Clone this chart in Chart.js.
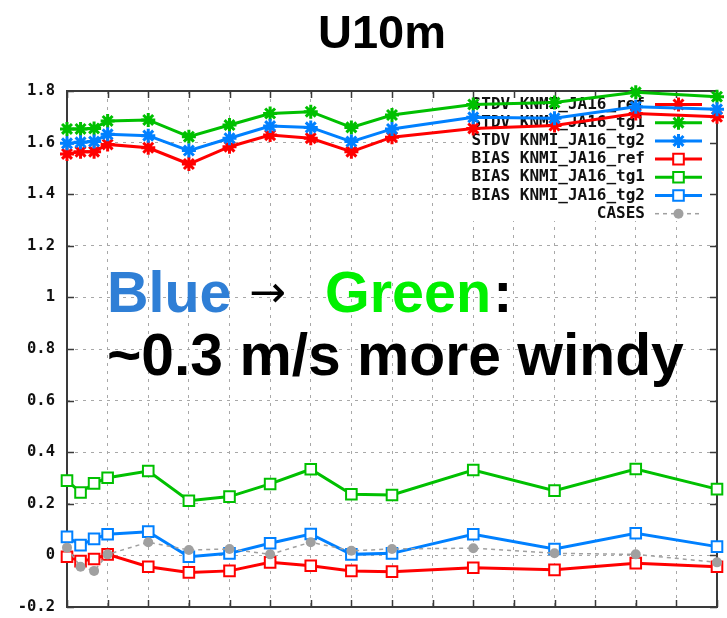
<!DOCTYPE html>
<html>
<head>
<meta charset="utf-8">
<script src="https://cdn.jsdelivr.net/npm/chart.js@4.4.0/dist/chart.umd.min.js"></script>
<style>
  html, body { margin: 0; padding: 0; background: #ffffff; }
  canvas { display: block; }
</style>
</head>
<body>
<canvas id="chart" width="727" height="618"></canvas>
<script>
// Forecast lead time (hours)
const leadHours = [0, 1, 2, 3, 6, 9, 12, 15, 18, 21, 24, 30, 36, 42, 48];

// Standard deviation of 10 m wind speed error (m/s)
const stdvRef = [1.556, 1.565, 1.565, 1.593, 1.580, 1.517, 1.584, 1.629, 1.617, 1.565, 1.621, 1.655, 1.666, 1.713, 1.700];
const stdvTg1 = [1.653, 1.653, 1.655, 1.684, 1.688, 1.623, 1.668, 1.713, 1.720, 1.659, 1.707, 1.748, 1.755, 1.795, 1.778];
const stdvTg2 = [1.597, 1.601, 1.604, 1.632, 1.627, 1.569, 1.617, 1.664, 1.659, 1.604, 1.653, 1.698, 1.694, 1.739, 1.729];

// Bias of 10 m wind speed (m/s)
const biasRef = [-0.005, -0.022, -0.014, 0.004, -0.044, -0.066, -0.060, -0.027, -0.040, -0.060, -0.063, -0.048, -0.056, -0.030, -0.044];
const biasTg1 = [0.290, 0.244, 0.279, 0.301, 0.327, 0.212, 0.228, 0.277, 0.334, 0.237, 0.234, 0.331, 0.251, 0.335, 0.257];
const biasTg2 = [0.072, 0.040, 0.064, 0.082, 0.092, -0.005, 0.008, 0.047, 0.083, 0.004, 0.008, 0.082, 0.025, 0.086, 0.034];

// Number of cases (scaled onto the same axis)
const cases = [0.030, -0.044, -0.060, 0.004, 0.051, 0.021, 0.025, 0.004, 0.051, 0.018, 0.025, 0.028, 0.008, 0.004, -0.027];

const seriesLabels = [
  'STDV KNMI_JA16_ref', 'STDV KNMI_JA16_tg1', 'STDV KNMI_JA16_tg2',
  'BIAS KNMI_JA16_ref', 'BIAS KNMI_JA16_tg1', 'BIAS KNMI_JA16_tg2', 'CASES'
];

const yMin = -0.2, yMax = 1.8, yStep = 0.2;
const xMin = 0, xMax = 48, xStep = 3;

const RED = '#ff0000', GREEN = '#00c000', BLUE = '#0080ff', GREY = '#a0a0a0';
const MONO = '"DejaVu Sans Mono", monospace';
const SANS = '"Liberation Sans", Arial, sans-serif';

const toPoints = vals => vals.map((v, i) => ({ x: leadHours[i], y: v }));

function stdvSet(label, vals, color, order) {
  return {
    label, data: toPoints(vals), order,
    borderColor: color, backgroundColor: color, borderWidth: 3,
    pointStyle: 'star', pointRadius: 7, pointBorderWidth: 3,
    pointBorderColor: color, pointBackgroundColor: color,
    tension: 0, clip: false
  };
}
function biasSet(label, vals, color, order) {
  return {
    label, data: toPoints(vals), order,
    borderColor: color, backgroundColor: '#ffffff', borderWidth: 3,
    pointStyle: 'rect', pointRadius: 7.5, pointBorderWidth: 2,
    pointBorderColor: color, pointBackgroundColor: '#ffffff',
    tension: 0, clip: false
  };
}

const datasets = [
  stdvSet(seriesLabels[0], stdvRef, RED, 7),
  stdvSet(seriesLabels[1], stdvTg1, GREEN, 6),
  stdvSet(seriesLabels[2], stdvTg2, BLUE, 5),
  biasSet(seriesLabels[3], biasRef, RED, 4),
  biasSet(seriesLabels[4], biasTg1, GREEN, 3),
  biasSet(seriesLabels[5], biasTg2, BLUE, 2),
  {
    label: seriesLabels[6], data: toPoints(cases), order: 1,
    borderColor: GREY, backgroundColor: GREY, borderWidth: 1.5, borderDash: [4, 4],
    pointStyle: 'circle', pointRadius: 5, pointBorderWidth: 0,
    pointBackgroundColor: GREY, tension: 0, clip: false
  }
];

// Key box, plot frame and inward tick marks (drawn under the data)
const framePlugin = {
  id: 'frameAndKey',
  beforeDatasetsDraw(chart) {
    const { ctx, chartArea: a, scales } = chart;
    ctx.save();

    // key
    const keyLeft = 468, keyBottom = 220;
    ctx.fillStyle = '#ffffff';
    ctx.fillRect(keyLeft, a.top + 1, a.right - keyLeft - 1, keyBottom - a.top);
    const textRight = 645, sampleL = 655, sampleR = 702, rowTop = 104.5, rowGap = 18.2;
    const keyStyles = [
      { c: RED, p: 'star' }, { c: GREEN, p: 'star' }, { c: BLUE, p: 'star' },
      { c: RED, p: 'rect' }, { c: GREEN, p: 'rect' }, { c: BLUE, p: 'rect' },
      { c: GREY, p: 'circle' }
    ];
    ctx.font = 'bold 16px ' + MONO;
    ctx.textAlign = 'right';
    ctx.textBaseline = 'middle';
    seriesLabels.forEach((lab, i) => {
      const y = rowTop + i * rowGap;
      const st = keyStyles[i];
      ctx.fillStyle = '#111111';
      ctx.fillText(lab, textRight, y);
      ctx.save();
      ctx.strokeStyle = st.c;
      if (st.p === 'circle') { ctx.lineWidth = 1.5; ctx.setLineDash([4, 4]); }
      else { ctx.lineWidth = 3; }
      ctx.beginPath();
      ctx.moveTo(sampleL, y);
      ctx.lineTo(sampleR, y);
      ctx.stroke();
      ctx.setLineDash([]);
      const mx = (sampleL + sampleR) / 2;
      if (st.p === 'star') {
        ctx.lineWidth = 3; ctx.fillStyle = st.c;
        Chart.helpers.drawPoint(ctx, { pointStyle: 'star', radius: 7, rotation: 0, borderWidth: 3 }, mx, y);
      } else if (st.p === 'rect') {
        ctx.lineWidth = 2; ctx.fillStyle = '#ffffff';
        Chart.helpers.drawPoint(ctx, { pointStyle: 'rect', radius: 7.5, rotation: 0, borderWidth: 2 }, mx, y);
      } else {
        ctx.fillStyle = st.c;
        Chart.helpers.drawPoint(ctx, { pointStyle: 'circle', radius: 5, rotation: 0, borderWidth: 0 }, mx, y);
      }
      ctx.restore();
    });

    // frame
    ctx.strokeStyle = '#3a3a3a';
    ctx.lineWidth = 2;
    ctx.strokeRect(a.left, a.top, a.right - a.left, a.bottom - a.top);

    // inward ticks on all four sides
    const tl = 7;
    ctx.lineWidth = 1.5;
    ctx.beginPath();
    scales.x.ticks.forEach(t => {
      const px = Math.round(scales.x.getPixelForValue(t.value)) + 0.5;
      ctx.moveTo(px, a.bottom); ctx.lineTo(px, a.bottom - tl);
      ctx.moveTo(px, a.top); ctx.lineTo(px, a.top + tl);
    });
    scales.y.ticks.forEach(t => {
      const py = Math.round(scales.y.getPixelForValue(t.value)) + 0.5;
      ctx.moveTo(a.left, py); ctx.lineTo(a.left + tl, py);
      ctx.moveTo(a.right, py); ctx.lineTo(a.right - tl, py);
    });
    ctx.stroke();
    ctx.restore();
  },
  afterDraw(chart) {
    const { ctx } = chart;
    ctx.save();
    ctx.textBaseline = 'alphabetic';
    ctx.textAlign = 'center';
    ctx.fillStyle = '#000000';
    ctx.font = 'bold 47px ' + SANS;
    ctx.fillText('U10m', 382, 48);

    ctx.textAlign = 'left';
    ctx.font = 'bold 57.5px ' + SANS;
    ctx.fillStyle = '#2f7fd6';
    ctx.fillText('Blue', 107, 312);
    ctx.fillStyle = '#000000';
    ctx.font = '44px "DejaVu Sans", sans-serif';
    ctx.fillText('\u2192', 249, 307);
    ctx.font = 'bold 57.5px ' + SANS;
    ctx.fillStyle = '#00f000';
    ctx.fillText('Green', 325, 312);
    const gw = ctx.measureText('Green').width;
    ctx.fillStyle = '#000000';
    ctx.fillText(':', 325 + gw + 2, 312);
    ctx.font = 'bold 58.8px ' + SANS;
    ctx.fillText('~0.3 m/s more windy', 107, 375);
    ctx.restore();
  }
};

new Chart(document.getElementById('chart'), {
  type: 'line',
  data: { datasets },
  options: {
    responsive: false,
    animation: false,
    layout: { padding: { top: 91, right: 7, bottom: 0, left: 0 } },
    plugins: { legend: { display: false }, title: { display: false }, tooltip: { enabled: false } },
    scales: {
      x: {
        type: 'linear', min: xMin, max: xMax,
        ticks: { stepSize: xStep, display: false },
        grid: { color: '#a8a8a8', lineWidth: 1, drawTicks: false },
        border: { display: false, dash: [3, 5] },
        afterFit(scale) {
          scale.height = 11;
          scale.paddingLeft = 0; scale.paddingRight = 0;
        }
      },
      y: {
        type: 'linear', min: yMin, max: yMax,
        ticks: {
          stepSize: yStep, padding: 12, color: '#111111',
          font: { family: MONO, size: 15.5, weight: 'bold' },
          callback: v => String(Number(v.toFixed(1)))
        },
        grid: { color: '#a8a8a8', lineWidth: 1, drawTicks: false },
        border: { display: false, dash: [3, 5] },
        afterFit(scale) {
          scale.width = 67;
          scale.paddingTop = 0; scale.paddingBottom = 0;
        }
      }
    }
  },
  plugins: [framePlugin]
});
</script>
</body>
</html>
